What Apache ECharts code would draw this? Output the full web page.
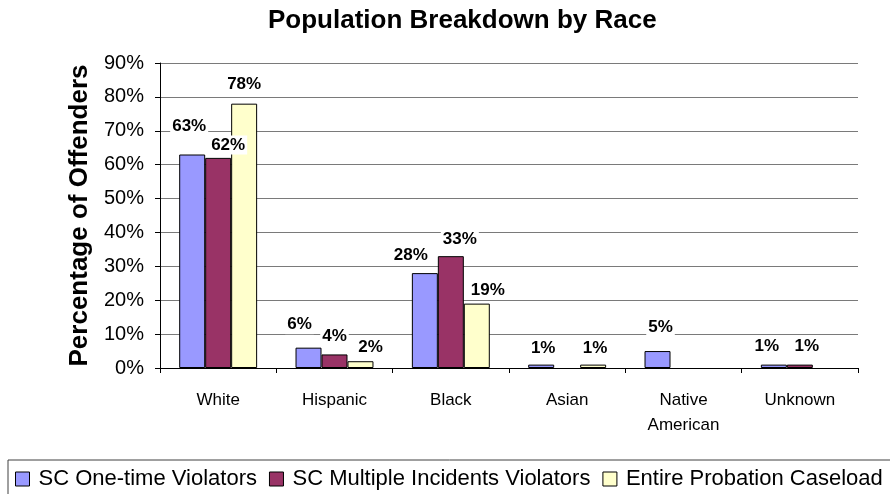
<!DOCTYPE html>
<html>
<head>
<meta charset="utf-8">
<script src="https://cdn.jsdelivr.net/npm/echarts@6/dist/echarts.min.js"></script>
<style>
  html, body { margin: 0; padding: 0; background: #ffffff; }
  #chart { width: 890px; height: 494px; }
</style>
</head>
<body>
<div id="chart"></div>
<script>
// Race categories on the x axis
const categories = ['White', 'Hispanic', 'Black', 'Asian', 'Native\nAmerican', 'Unknown'];

// Percentage of offenders per group (null = no bar)
const oneTimeViolators = [63, 6, 28, 1, 5, 1];
const multipleIncidentsViolators = [62, 4, 33, null, null, 1];
const entireProbationCaseload = [78, 2, 19, 1, null, null];

const seriesNames = ['SC One-time Violators', 'SC Multiple Incidents Violators', 'Entire Probation Caseload'];
const yTicks = [0, 10, 20, 30, 40, 50, 60, 70, 80, 90];

// Hand-placed nudges for each value label, relative to the top of its bar
const labelNudges = [
  [[-3, -28], [-9, -23], [-14, -18], [2, -16], [3, -24], [-7, -18]],
  [[10, -13], [0, -18], [9, -17], [0, 0], [0, 0], [7, -18]],
  [[0, -19], [10, -14], [11, -13], [2, -16], [0, 0], [0, 0]]
];

const colors = ['#9999FF', '#993366', '#FFFFCC'];
const baseFont = "'Liberation Sans', Arial, sans-serif";

function buildSeries(name, values, idx) {
  return {
    name: name,
    type: 'bar',
    barGap: 0,
    barCategoryGap: '33%',
    itemStyle: { color: colors[idx], borderColor: '#000000', borderWidth: 1 },
    label: {
      show: true,
      position: 'top',
      distance: 0,
      verticalAlign: 'middle',
      formatter: '{c}%',
      fontFamily: baseFont,
      fontWeight: 'bold',
      fontSize: 17,
      color: '#000000',
      backgroundColor: '#ffffff',
      padding: [1, 2]
    },
    emphasis: { disabled: true },
    data: values.map((v, i) => v == null ? '-' : { value: v, label: { offset: labelNudges[idx][i] } })
  };
}

const chart = echarts.init(document.getElementById('chart'), null, { renderer: 'canvas' });
chart.setOption({
  animation: false,
  backgroundColor: '#ffffff',
  title: {
    text: 'Population Breakdown by Race',
    left: 263,
    top: 3,
    textStyle: { fontFamily: baseFont, fontWeight: 'bold', fontSize: 26, color: '#000000' }
  },
  grid: { left: 160, right: 32, top: 63, bottom: 126, containLabel: false },
  legend: {
    left: 8,
    top: 460,
    width: 1000,
    orient: 'horizontal',
    padding: [8, 20, 30, 7],
    itemGap: 12,
    itemWidth: 14,
    itemHeight: 14,
    borderColor: '#404040',
    borderWidth: 1,
    icon: 'rect',
    selectedMode: false,
    itemStyle: { borderColor: '#000000', borderWidth: 1 },
    textStyle: { fontFamily: baseFont, fontSize: 22, color: '#000000', padding: [0, 0, 0, 4] },
    data: seriesNames
  },
  xAxis: {
    type: 'category',
    data: categories,
    axisLine: { lineStyle: { color: '#000000', width: 1 } },
    axisTick: { show: true, length: 5, lineStyle: { color: '#000000' } },
    axisLabel: {
      fontFamily: baseFont,
      fontSize: 17,
      color: '#000000',
      margin: 20,
      lineHeight: 25,
      interval: 0
    }
  },
  yAxis: {
    type: 'value',
    min: yTicks[0],
    max: yTicks[yTicks.length - 1],
    interval: yTicks[1] - yTicks[0],
    name: 'Percentage of Offenders',
    nameLocation: 'middle',
    nameGap: 62,
    nameTextStyle: { fontFamily: baseFont, fontWeight: 'bold', fontSize: 26, color: '#000000' },
    axisLine: { show: true, lineStyle: { color: '#000000', width: 1 } },
    axisTick: { show: true, length: 5, lineStyle: { color: '#000000' } },
    axisLabel: {
      formatter: '{value}%',
      fontFamily: baseFont,
      fontSize: 20,
      color: '#000000',
      margin: 16
    },
    splitLine: { show: true, lineStyle: { color: '#7a7a7a', width: 1 } }
  },
  series: [
    buildSeries(seriesNames[0], oneTimeViolators, 0),
    buildSeries(seriesNames[1], multipleIncidentsViolators, 1),
    buildSeries(seriesNames[2], entireProbationCaseload, 2)
  ]
});
</script>
</body>
</html>
